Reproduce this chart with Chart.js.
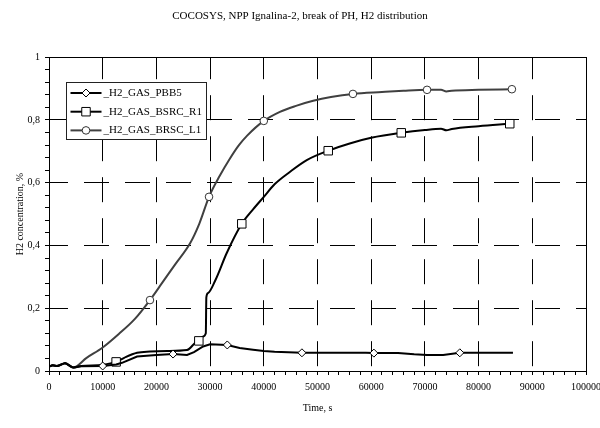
<!DOCTYPE html>
<html>
<head>
<meta charset="utf-8">
<script src="https://cdn.jsdelivr.net/npm/chart.js@4.4.1/dist/chart.umd.min.js"></script>
<style>
  body { margin: 0; background: #fff; }
  canvas { display: block; }
</style>
</head>
<body>
<canvas id="h2Chart" width="600" height="428"></canvas>
<script>
/* ===============================
   DATA
   =============================== */
const pbbTime = [0, 700, 1500, 3000, 4500, 6000, 10000, 12500, 13600, 16400, 20000, 23100, 25700,
    27000, 28700, 30000, 33200, 35500, 38000, 40000, 42000, 47100, 59000, 60500, 65000, 68000,
    70400, 73400, 76500, 86400];
const pbbConc = [0.014, 0.018, 0.016, 0.025, 0.011, 0.015, 0.016, 0.021, 0.026, 0.046, 0.051, 0.054, 0.051,
    0.06, 0.078, 0.085, 0.083, 0.073, 0.068, 0.064, 0.061, 0.058, 0.058, 0.057, 0.057, 0.053,
    0.051, 0.051, 0.058, 0.058];
const pbbMarks = [10000, 23100, 33200, 47100, 60500, 76500];

const r1Time = [0, 700, 1500, 3000, 4500, 6000, 10000, 12500, 14000, 16400, 18800, 22000, 25700,
    27500, 27900, 28700, 29200, 29300, 29600, 31000, 33100, 35900, 38000, 40000, 42000, 44900,
    48000, 52000, 56000, 60000, 65600, 70000, 73000, 74000, 75000, 80000, 85800];
const r1Conc = [0.014, 0.018, 0.016, 0.025, 0.011, 0.016, 0.02, 0.029, 0.042, 0.058, 0.062, 0.064, 0.067,
    0.094, 0.096, 0.11, 0.12, 0.235, 0.248, 0.29, 0.376, 0.469, 0.515, 0.555, 0.595, 0.635,
    0.672, 0.702, 0.725, 0.743, 0.759, 0.768, 0.772, 0.767, 0.771, 0.780, 0.788];
const r1Marks = [12500, 27900, 35900, 52000, 65600, 85800];

const l1Time = [0, 700, 1500, 3000, 4500, 7000, 10000, 13000, 16000, 18800, 21000, 23500, 26300,
    28000, 29800, 31800, 33700, 35300, 36900, 40000, 43000, 46000, 49200, 52500, 56600, 62000, 66000,
    70400, 73000, 74000, 75000, 80000, 86200];
const l1Conc = [0.014, 0.018, 0.016, 0.025, 0.011, 0.042, 0.075, 0.118, 0.166, 0.226, 0.279, 0.34, 0.408,
    0.47, 0.555, 0.622, 0.677, 0.718, 0.750, 0.797, 0.826, 0.845, 0.861, 0.873, 0.883, 0.889, 0.893,
    0.896, 0.896, 0.891, 0.893, 0.896, 0.898];
const l1Marks = [18800, 29800, 40000, 56600, 70400, 86200];

const seriesNames = ["_H2_GAS_PBB5", "_H2_GAS_BSRC_R1", "_H2_GAS_BRSC_L1"];

const xMax = 100000;
const xMajor = 10000;
const yMajor = 0.2;

const FONT = "'Liberation Serif', 'Times New Roman', serif";

function toPoints(ts, vs) {
    return ts.map((t, i) => ({ x: t, y: vs[i] }));
}

function markerRadius(marks, r) {
    return ctx => (ctx.raw && marks.includes(ctx.raw.x)) ? r : 0;
}

function isMajor(v, step) {
    const k = v / step;
    return Math.abs(k - Math.round(k)) < 1e-6;
}

/* ===============================
   PLOT FRAME + LEGEND BOX
   =============================== */
const framePlugin = {
    id: "frame",
    afterDraw(chart) {
        const { ctx, chartArea: a } = chart;
        ctx.save();
        ctx.setLineDash([]);
        ctx.strokeStyle = "#000";
        ctx.lineWidth = 1;
        ctx.strokeRect(Math.round(a.left) + 0.5, Math.round(a.top) + 0.5,
            Math.round(a.right - a.left), Math.round(a.bottom - a.top));
        ctx.restore();
    }
};

const boxLegend = {
    id: "boxLegend",
    afterDraw(chart) {
        const { ctx, chartArea: a } = chart;
        const x0 = Math.round(a.left) + 17.5;
        const y0 = Math.round(a.top) + 25.5;
        const w = 140, h = 57;

        ctx.save();
        ctx.setLineDash([]);
        ctx.fillStyle = "#fff";
        ctx.fillRect(x0, y0, w, h);
        ctx.strokeStyle = "#222";
        ctx.lineWidth = 1;
        ctx.strokeRect(x0, y0, w, h);

        chart.data.datasets.forEach((ds, i) => {
            const y = y0 + 10.5 + i * 18.7;
            ctx.strokeStyle = ds.borderColor;
            ctx.lineWidth = 2;
            ctx.beginPath();
            ctx.moveTo(x0 + 4, y);
            ctx.lineTo(x0 + 35, y);
            ctx.stroke();

            ctx.fillStyle = "#fff";
            ctx.strokeStyle = ds.pointBorderColor;
            ctx.lineWidth = 1;
            Chart.helpers.drawPoint(ctx, {
                pointStyle: ds.pointStyle,
                radius: ds.legendRadius,
                borderWidth: 1,
                rotation: 0
            }, x0 + 19.5, y);

            ctx.fillStyle = "#000";
            ctx.font = "11px " + FONT;
            ctx.textBaseline = "middle";
            ctx.textAlign = "left";
            ctx.fillText(ds.label, x0 + 37, y);
        });
        ctx.restore();
    }
};

/* ===============================
   CHART
   =============================== */
new Chart(document.getElementById("h2Chart"), {
    type: "line",
    data: {
        datasets: [
            {
                label: seriesNames[0],
                data: toPoints(pbbTime, pbbConc),
                borderColor: "#000",
                borderWidth: 2,
                pointStyle: "rectRot",
                pointRadius: markerRadius(pbbMarks, 4),
                legendRadius: 4,
                pointBackgroundColor: "#fff",
                pointBorderColor: "#000",
                pointBorderWidth: 1
            },
            {
                label: seriesNames[1],
                data: toPoints(r1Time, r1Conc),
                borderColor: "#000",
                borderWidth: 2,
                cubicInterpolationMode: "monotone",
                pointStyle: "rect",
                pointRadius: markerRadius(r1Marks, 6),
                legendRadius: 6,
                pointBackgroundColor: "#fff",
                pointBorderColor: "#000",
                pointBorderWidth: 1
            },
            {
                label: seriesNames[2],
                data: toPoints(l1Time, l1Conc),
                borderColor: "#404040",
                borderWidth: 2,
                cubicInterpolationMode: "monotone",
                pointStyle: "circle",
                pointRadius: markerRadius(l1Marks, 3.8),
                legendRadius: 3.8,
                pointBackgroundColor: "#fff",
                pointBorderColor: "#333",
                pointBorderWidth: 1
            }
        ]
    },
    options: {
        responsive: false,
        animation: false,
        devicePixelRatio: 1,
        layout: { padding: { left: 0, right: 0, top: 0, bottom: 0 } },
        elements: { line: { tension: 0 } },
        plugins: {
            legend: { display: false },
            tooltip: { enabled: false },
            title: {
                display: true,
                text: "COCOSYS, NPP Ignalina-2, break of PH, H2 distribution",
                color: "#000",
                font: { family: FONT, size: 11, weight: "normal" },
                padding: { top: 10, bottom: 34 }
            }
        },
        scales: {
            x: {
                type: "linear",
                min: 0,
                max: xMax,
                afterFit: s => {
                    s.height = 57;
                    s.paddingRight = 14;
                    s.paddingLeft = 0;
                },
                border: { display: true, color: "#000", width: 1, dash: [25, 16], dashOffset: 3 },
                grid: {
                    color: c => isMajor(c.tick.value, xMajor) ? "#000" : "rgba(0,0,0,0)",
                    tickColor: "#000",
                    tickLength: 4
                },
                ticks: {
                    stepSize: 2000,
                    autoSkip: false,
                    maxRotation: 0,
                    padding: 6,
                    color: "#000",
                    font: { family: FONT, size: 10 },
                    callback: v => isMajor(v, xMajor) ? String(v) : ""
                },
                title: {
                    display: true,
                    text: "Time, s",
                    color: "#000",
                    font: { family: FONT, size: 10 },
                    padding: { top: 0, bottom: 14 }
                }
            },
            y: {
                min: 0,
                max: 1,
                afterFit: s => { s.width = 49; },
                border: { display: true, color: "#000", width: 1, dash: [25, 16], dashOffset: 7 },
                grid: {
                    color: c => isMajor(c.tick.value, yMajor) ? "#000" : "rgba(0,0,0,0)",
                    tickColor: "#000",
                    tickLength: 4
                },
                ticks: {
                    stepSize: 0.04,
                    autoSkip: false,
                    padding: 5,
                    color: "#000",
                    font: { family: FONT, size: 10 },
                    callback: v => isMajor(v, yMajor)
                        ? String(Math.round(v / yMajor) * 2 / 10).replace(".", ",")
                        : ""
                },
                title: {
                    display: true,
                    text: "H2 concentration, %",
                    color: "#000",
                    font: { family: FONT, size: 10 },
                    padding: { top: 14, bottom: 0 }
                }
            }
        }
    },
    plugins: [framePlugin, boxLegend]
});
</script>
</body>
</html>
